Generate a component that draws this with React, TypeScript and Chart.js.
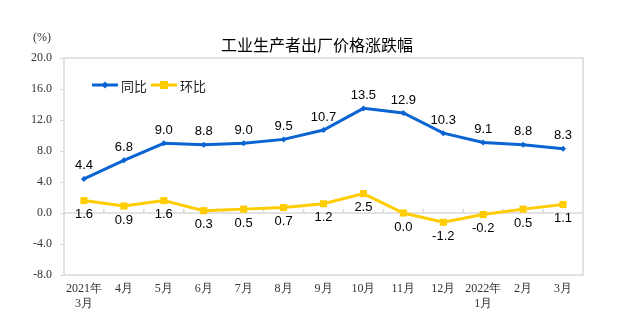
import React, { useEffect, useRef } from "react";
import { Chart, registerables } from "chart.js";
Chart.register(...registerables);

const categories: (string | string[])[] = [
  ["2021年", "3月"], "4月", "5月", "6月", "7月", "8月", "9月", "10月", "11月", "12月", ["2022年", "1月"], "2月", "3月",
];
const yoyValues = [4.4, 6.8, 9.0, 8.8, 9.0, 9.5, 10.7, 13.5, 12.9, 10.3, 9.1, 8.8, 8.3];
const momValues = [1.6, 0.9, 1.6, 0.3, 0.5, 0.7, 1.2, 2.5, 0.0, -1.2, -0.2, 0.5, 1.1];
const seriesNames = ["同比", "环比"];
const yMin = -8;
const yMax = 20;
const yStep = 4;
const chartTitle = "工业生产者出厂价格涨跌幅";
const unitLabel = "(%)";

const BLUE = "#0a64d2";
const YELLOW = "#ffcc00";

const decorPlugin = {
  id: "decor",
  beforeDatasetsDraw(chart: any) {
    const { ctx, chartArea, scales } = chart;
    const x = scales.x;
    const y = scales.y;
    ctx.save();
    ctx.strokeStyle = "#d9d9d9";
    ctx.lineWidth = 1.5;
    ctx.strokeRect(chartArea.left, chartArea.top, chartArea.right - chartArea.left, chartArea.bottom - chartArea.top);
    const y0 = y.getPixelForValue(0);
    ctx.beginPath();
    ctx.moveTo(chartArea.left, y0);
    ctx.lineTo(chartArea.right, y0);
    ctx.stroke();
    for (let i = 0; i < categories.length - 1; i++) {
      const bx = (x.getPixelForValue(i) + x.getPixelForValue(i + 1)) / 2;
      ctx.beginPath();
      ctx.moveTo(bx, y0);
      ctx.lineTo(bx, y0 - 4);
      ctx.stroke();
    }
    ctx.restore();
  },
  afterDatasetsDraw(chart: any) {
    const { ctx } = chart;
    ctx.save();
    ctx.font = "13px 'Liberation Sans', Arial, sans-serif";
    ctx.fillStyle = "#000";
    ctx.textAlign = "center";
    ctx.textBaseline = "middle";
    const m0 = chart.getDatasetMeta(0);
    m0.data.forEach((p: any, i: number) => {
      ctx.fillText(yoyValues[i].toFixed(1), p.x, p.y - 13);
    });
    const m1 = chart.getDatasetMeta(1);
    m1.data.forEach((p: any, i: number) => {
      ctx.fillText(momValues[i].toFixed(1), p.x, p.y + 14);
    });

    // title
    ctx.font = "16px 'Noto Sans CJK SC', sans-serif";
    ctx.fillText(chartTitle, 317, 45);
    ctx.font = "12px 'Liberation Serif', serif";
    ctx.fillStyle = "#333";
    ctx.fillText(unitLabel, 42, 38);

    // legend
    const ly = 85;
    ctx.lineWidth = 3;
    ctx.strokeStyle = BLUE;
    ctx.beginPath();
    ctx.moveTo(92, ly);
    ctx.lineTo(118, ly);
    ctx.stroke();
    ctx.fillStyle = BLUE;
    ctx.beginPath();
    ctx.moveTo(105, ly - 3.5);
    ctx.lineTo(108.5, ly);
    ctx.lineTo(105, ly + 3.5);
    ctx.lineTo(101.5, ly);
    ctx.closePath();
    ctx.fill();
    ctx.strokeStyle = YELLOW;
    ctx.beginPath();
    ctx.moveTo(151, ly);
    ctx.lineTo(177, ly);
    ctx.stroke();
    ctx.fillStyle = YELLOW;
    ctx.fillRect(160, ly - 4, 8, 8);
    ctx.fillStyle = "#222";
    ctx.textAlign = "left";
    ctx.font = "13px 'Noto Sans CJK SC', sans-serif";
    ctx.fillText(seriesNames[0], 121, ly + 1);
    ctx.fillText(seriesNames[1], 180, ly + 1);
    ctx.restore();
  },
};

export default function App() {
  const ref = useRef<HTMLCanvasElement>(null);
  useEffect(() => {
    if (!ref.current) return;
    const chart = new Chart(ref.current, {
      type: "line",
      data: {
        labels: categories as any,
        datasets: [
          {
            label: seriesNames[0],
            data: yoyValues,
            borderColor: BLUE,
            backgroundColor: BLUE,
            borderWidth: 3,
            pointStyle: "rectRot",
            pointRadius: 3,
            pointBorderWidth: 0,
            tension: 0,
          },
          {
            label: seriesNames[1],
            data: momValues,
            borderColor: YELLOW,
            backgroundColor: YELLOW,
            borderWidth: 3,
            pointStyle: "rect",
            pointRadius: 5,
            pointBorderWidth: 0,
            tension: 0,
          },
        ],
      },
      options: {
        animation: false,
        responsive: true,
        maintainAspectRatio: false,
        layout: { padding: { top: 58, right: 37, left: 0, bottom: 0 } },
        plugins: { legend: { display: false }, tooltip: { enabled: false }, title: { display: false } },
        scales: {
          x: {
            offset: true,
            grid: { display: false, drawTicks: false },
            border: { display: false },
            ticks: {
              color: "#333",
              font: { family: "'Liberation Serif', 'Times New Roman', serif", size: 12, lineHeight: 1.25 },
              padding: 6,
              maxRotation: 0,
              autoSkip: false,
            },
            afterFit(scale: any) {
              scale.height = 60;
            },
          },
          y: {
            min: yMin,
            max: yMax,
            grid: { drawOnChartArea: false, tickLength: 4, color: "#d9d9d9" },
            border: { display: false },
            ticks: {
              stepSize: yStep,
              color: "#333",
              padding: 8,
              font: { family: "'Liberation Serif', 'Times New Roman', serif", size: 12 },
              callback: (v: any) => Number(v).toFixed(1),
            },
            afterFit(scale: any) {
              scale.width = 64;
            },
          },
        },
      },
      plugins: [decorPlugin],
    });
    return () => chart.destroy();
  }, []);
  return (
    <div style={{ position: "absolute", left: 0, top: 0, width: 620, height: 335, background: "#fff" }}>
      <canvas ref={ref} />
    </div>
  );
}
